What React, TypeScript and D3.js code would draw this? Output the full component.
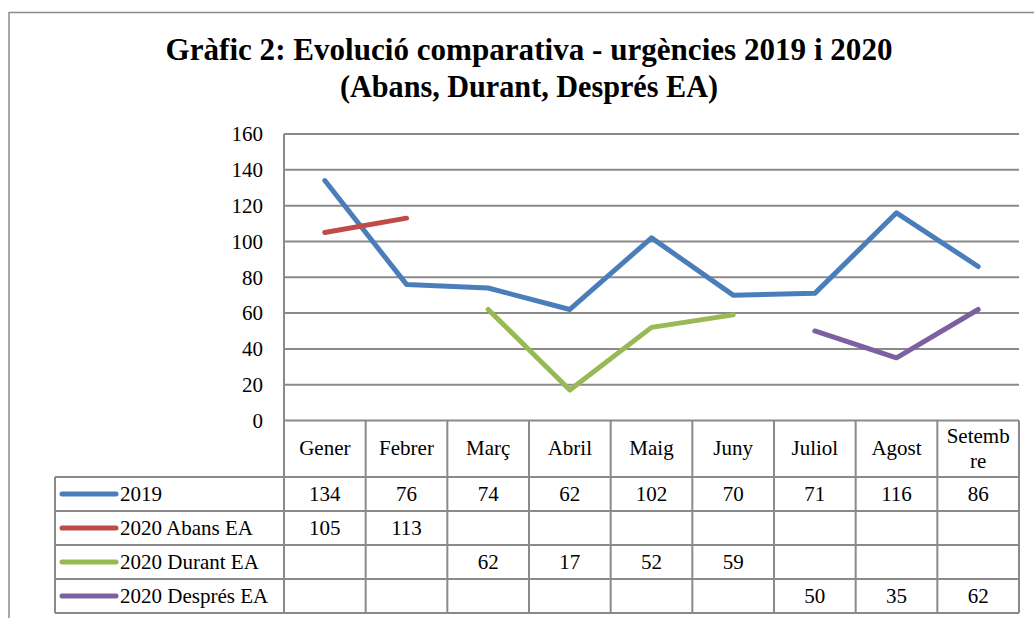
import React from 'react';
import * as d3 from 'd3';

const months = ['Gener', 'Febrer', 'Març', 'Abril', 'Maig', 'Juny', 'Juliol', 'Agost', 'Setembre'];
const monthLabels = [['Gener'], ['Febrer'], ['Març'], ['Abril'], ['Maig'], ['Juny'], ['Juliol'], ['Agost'], ['Setemb', 're']];

const s2019 = [134, 76, 74, 62, 102, 70, 71, 116, 86];
const s2020Abans = [105, 113, null, null, null, null, null, null, null];
const s2020Durant = [null, null, 62, 17, 52, 59, null, null, null];
const s2020Despres = [null, null, null, null, null, null, 50, 35, 62];

const seriesNames = ['2019', '2020 Abans EA', '2020 Durant EA', '2020 Després EA'];
const seriesColors = ['#4a7ebb', '#be4b48', '#98b954', '#7d60a0'];
const yTicks = [0, 20, 40, 60, 80, 100, 120, 140, 160];

const W = 1034;
const H = 618;
const plot = { left: 284, right: 1019, top: 134, bottom: 420.5 };
const FONT = '"Liberation Serif", "DejaVu Serif", serif';
const FS = 21;

export default function App() {
  const allSeries = [s2019, s2020Abans, s2020Durant, s2020Despres];
  const x = d3.scaleBand<string>().domain(months).range([plot.left, plot.right]);
  const y = d3.scaleLinear().domain([0, 160]).range([plot.bottom, plot.top]);
  const cx = (i: number) => (x(months[i]) as number) + x.bandwidth() / 2;

  const line = d3
    .line<number | null>()
    .defined((d) => d !== null)
    .x((_, i) => cx(i))
    .y((d) => y(d as number));

  const headerBottom = 477;
  const rowH = 34;
  const tableLeft = 55;
  const rowTop = (r: number) => headerBottom + r * rowH;
  const gridColor = '#8a8a8a';

  return (
    <svg width={W} height={H} style={{ position: 'absolute', left: 0, top: 0, background: '#fff' }}>
      {/* outer frame */}
      <line x1={9} x2={W + 5} y1={12.5} y2={12.5} stroke="#8c8c8c" strokeWidth={1.5} />
      <line x1={9} x2={9} y1={12} y2={H + 5} stroke="#8c8c8c" strokeWidth={1.5} />

      {/* title */}
      <text x={529} y={60} textAnchor="middle" fontFamily={FONT} fontWeight="bold" fontSize={31}
        textLength={727} lengthAdjust="spacingAndGlyphs" fill="#000">
        Gràfic 2: Evolució comparativa - urgències 2019 i 2020
      </text>
      <text x={529} y={97} textAnchor="middle" fontFamily={FONT} fontWeight="bold" fontSize={31}
        textLength={378} lengthAdjust="spacingAndGlyphs" fill="#000">
        (Abans, Durant, Després EA)
      </text>

      {/* gridlines & y ticks */}
      {yTicks.map((t) => (
        <g key={t}>
          <line x1={plot.left} x2={plot.right} y1={y(t)} y2={y(t)} stroke={gridColor} strokeWidth={2} />
          <text x={263} y={y(t)} dy="0.35em" textAnchor="end" fontFamily={FONT} fontSize={FS} fill="#000">
            {t}
          </text>
        </g>
      ))}
      <line x1={plot.left} x2={plot.left} y1={plot.top} y2={plot.bottom} stroke={gridColor} strokeWidth={2} />

      {/* data table: header */}
      {months.map((m, i) => (
        <g key={m}>
          <line x1={x(m) as number} x2={x(m) as number} y1={plot.bottom} y2={rowTop(4)} stroke={gridColor} strokeWidth={2} />
          {monthLabels[i].length === 1 ? (
            <text x={cx(i)} y={448} dy="0.35em" textAnchor="middle" fontFamily={FONT} fontSize={FS}>
              {monthLabels[i][0]}
            </text>
          ) : (
            monthLabels[i].map((lbl, k) => (
              <text key={k} x={cx(i)} y={436 + k * 25} dy="0.35em" textAnchor="middle" fontFamily={FONT} fontSize={FS}>
                {lbl}
              </text>
            ))
          )}
        </g>
      ))}
      <line x1={plot.right} x2={plot.right} y1={plot.bottom} y2={rowTop(4)} stroke={gridColor} strokeWidth={2} />

      {/* data table: rows */}
      {[0, 1, 2, 3, 4].map((r) => (
        <line key={r} x1={tableLeft} x2={plot.right} y1={rowTop(r)} y2={rowTop(r)} stroke={gridColor} strokeWidth={2} />
      ))}
      <line x1={tableLeft} x2={tableLeft} y1={rowTop(0)} y2={rowTop(4)} stroke={gridColor} strokeWidth={2} />

      {allSeries.map((s, r) => (
        <g key={seriesNames[r]}>
          <line x1={62} x2={116} y1={rowTop(r) + rowH / 2} y2={rowTop(r) + rowH / 2}
            stroke={seriesColors[r]} strokeWidth={5} strokeLinecap="round" />
          <text x={120} y={rowTop(r) + rowH / 2} dy="0.35em" fontFamily={FONT} fontSize={FS}>
            {seriesNames[r]}
          </text>
          {s.map((v, i) =>
            v === null ? null : (
              <text key={i} x={cx(i)} y={rowTop(r) + rowH / 2} dy="0.35em" textAnchor="middle" fontFamily={FONT} fontSize={FS}>
                {v}
              </text>
            )
          )}
        </g>
      ))}

      {/* series lines */}
      {allSeries.map((s, r) => (
        <path key={r} d={line(s) ?? ''} fill="none" stroke={seriesColors[r]} strokeWidth={5}
          strokeLinecap="round" strokeLinejoin="round" />
      ))}
    </svg>
  );
}
